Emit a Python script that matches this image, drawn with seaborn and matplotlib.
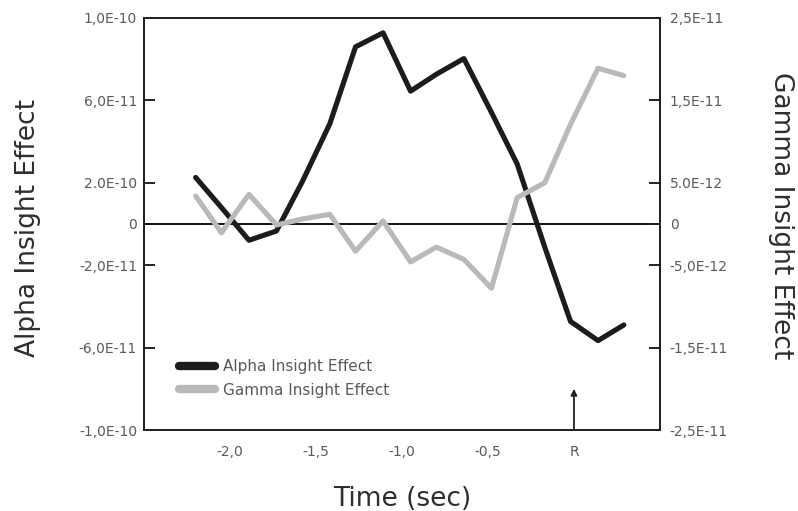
"""Alpha vs gamma insight effect over time before the response (R)."""

import matplotlib

matplotlib.use("Agg")
import matplotlib.pyplot as plt
import pandas as pd
import seaborn as sns

# time samples (sec), R = response at 0
TIME = [-2.2, -2.05, -1.89, -1.73, -1.58, -1.42, -1.27, -1.11, -0.95,
        -0.80, -0.64, -0.48, -0.33, -0.17, -0.02, 0.14, 0.29]

ALPHA = [2.26e-11, 0.8e-11, -0.79e-11, -0.34e-11, 2.05e-11, 4.86e-11,
         8.6e-11, 9.28e-11, 6.45e-11, 7.27e-11, 8.03e-11, 5.42e-11,
         2.91e-11, -1.12e-11, -4.73e-11, -5.66e-11, -4.9e-11]

GAMMA = [3.4e-12, -1.06e-12, 3.6e-12, -0.12e-12, 0.6e-12, 1.18e-12,
         -3.3e-12, 0.37e-12, -4.6e-12, -2.8e-12, -4.3e-12, -7.8e-12,
         3.2e-12, 5.0e-12, 12.1e-12, 18.9e-12, 18.0e-12]

X_TICKS = [-2.0, -1.5, -1.0, -0.5, 0.0]
X_LABELS = ["-2,0", "-1,5", "-1,0", "-0,5", "R"]

LEFT_TICKS = [1e-10, 6e-11, 2e-11, 0, -2e-11, -6e-11, -1e-10]
LEFT_LABELS = ["1,0E-10", "6,0E-11", "2.0E-10", "0", "-2,0E-11", "-6,0E-11", "-1,0E-10"]

RIGHT_TICKS = [2.5e-11, 1.5e-11, 5e-12, 0, -5e-12, -1.5e-11, -2.5e-11]
RIGHT_LABELS = ["2,5E-11", "1,5E-11", "5.0E-12", "0", "-5,0E-12", "-1,5E-11", "-2,5E-11"]

ALPHA_COLOR = "#1c1c1c"
GAMMA_COLOR = "#b9b9b9"
TICK_COLOR = "#5a5a5a"
LABEL_COLOR = "#2e2e2e"


def main():
    sns.set_style("white")
    plt.rcParams["font.family"] = ["DejaVu Sans"]

    df = pd.DataFrame({"time": TIME, "alpha": ALPHA, "gamma": GAMMA})

    fig = plt.figure(figsize=(7.98, 5.11), dpi=100)
    ax = fig.add_axes([0.1805, 0.1585, 0.6465, 0.8063])
    ax2 = ax.twinx()

    ax.axhline(0, color="#111111", lw=1.4, zorder=1)

    sns.lineplot(data=df, x="time", y="alpha", ax=ax, color=ALPHA_COLOR,
                 lw=3.7, label="Alpha Insight Effect", legend=False, zorder=3)
    sns.lineplot(data=df, x="time", y="gamma", ax=ax2, color=GAMMA_COLOR,
                 lw=3.7, label="Gamma Insight Effect", legend=False, zorder=2)

    ax.set_xlim(-2.5, 0.5)
    ax.set_ylim(-1e-10, 1e-10)
    ax2.set_ylim(-2.5e-11, 2.5e-11)

    ax.set_xticks(X_TICKS, X_LABELS)
    ax.set_yticks(LEFT_TICKS, LEFT_LABELS)
    ax2.set_yticks(RIGHT_TICKS, RIGHT_LABELS)

    for a in (ax, ax2):
        for s in a.spines.values():
            s.set_color("#222222")
            s.set_linewidth(1.4)
        a.tick_params(direction="in", length=8, width=1.4, color="#222222",
                      labelsize=10, labelcolor=TICK_COLOR)
    ax.tick_params(axis="x", pad=11)
    ax.tick_params(axis="y", pad=5)
    ax2.tick_params(axis="y", pad=7)

    # response marker arrow
    ax.annotate("", xy=(0, -0.8e-10), xytext=(0, -1e-10),
                arrowprops=dict(arrowstyle="-|>", color="#222222", lw=1.3,
                                mutation_scale=9, shrinkA=0, shrinkB=0))

    ax.set_xlabel("Time (sec)", fontsize=19, color=LABEL_COLOR)
    ax.set_ylabel("Alpha Insight Effect", fontsize=19, color=LABEL_COLOR)
    ax2.set_ylabel("Gamma Insight Effect", fontsize=19, color=LABEL_COLOR,
                   rotation=270, va="bottom")
    ax.xaxis.set_label_coords(0.5, -0.135)
    ax.yaxis.set_label_coords(-0.2, 0.49)
    ax2.yaxis.set_label_coords(1.21, 0.52)

    h1, l1 = ax.get_legend_handles_labels()
    h2, l2 = ax2.get_legend_handles_labels()
    leg = ax.legend(h1 + h2, l1 + l2, loc="center left", bbox_to_anchor=(0.052, 0.125),
                    frameon=False, fontsize=11, handlelength=2.4, labelspacing=0.55,
                    handletextpad=0.5, borderpad=0)
    for t in leg.get_texts():
        t.set_color(TICK_COLOR)
    for line in leg.get_lines():
        line.set_linewidth(6)
        line.set_solid_capstyle("round")

    fig.savefig("out.png", dpi=100)


if __name__ == "__main__":
    main()
